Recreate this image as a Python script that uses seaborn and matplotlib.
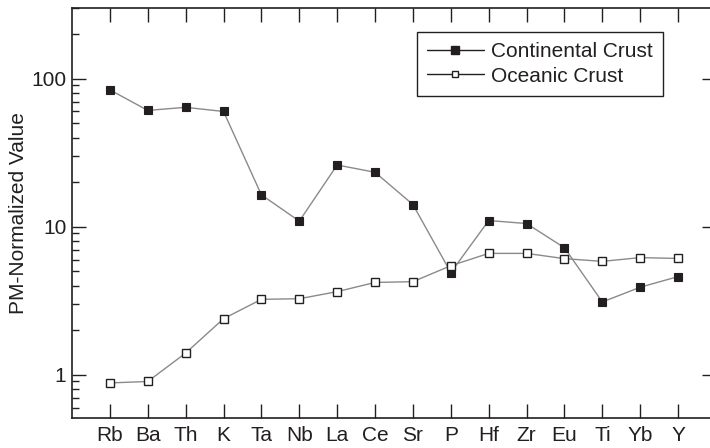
import matplotlib
matplotlib.use("Agg")
import matplotlib.pyplot as plt
import seaborn as sns
import pandas as pd
import numpy as np
from matplotlib.lines import Line2D
from matplotlib.ticker import LogLocator, FixedLocator, NullFormatter, FixedFormatter

elements = ["Rb", "Ba", "Th", "K", "Ta", "Nb", "La", "Ce", "Sr", "P", "Hf", "Zr", "Eu", "Ti", "Yb", "Y"]
continental = [84, 61, 64, 60, 16.4, 10.9, 26.1, 23.3, 14.1, 4.9, 11.0, 10.5, 7.2, 3.1, 3.9, 4.6]
oceanic = [0.88, 0.90, 1.40, 2.39, 3.23, 3.26, 3.64, 4.2, 4.25, 5.45, 6.6, 6.6, 6.08, 5.83, 6.18, 6.1]
series_names = ["Continental Crust", "Oceanic Crust"]
y_ticks = [1, 10, 100]

sns.set_style("ticks")
plt.rcParams['font.family'] = ['Liberation Sans', 'DejaVu Sans']

pos = np.arange(len(elements))
df = pd.DataFrame({"pos": np.concatenate([pos, pos]),
                   "value": continental + oceanic,
                   "series": [series_names[0]] * len(elements) + [series_names[1]] * len(elements)})

fig = plt.figure(figsize=(7.10, 4.48), dpi=100)
ax = fig.add_axes([72/710, 30/448, (716-72)/710, (418-8)/448])

line_color = "#8a8a8a"
sns.lineplot(data=df[df.series == series_names[0]], x="pos", y="value", ax=ax,
             color=line_color, lw=1.0, marker="s", markersize=6.2,
             markerfacecolor="#231f20", markeredgecolor="#231f20", markeredgewidth=0.8,
             legend=False)
sns.lineplot(data=df[df.series == series_names[1]], x="pos", y="value", ax=ax,
             color=line_color, lw=1.0, marker="s", markersize=5.6,
             markerfacecolor="white", markeredgecolor="#231f20", markeredgewidth=1.0,
             legend=False)

ax.set_yscale("log")
ax.set_ylim(0.51, 300)
ax.set_xlim(-1, 16)
ax.xaxis.set_major_locator(FixedLocator(pos))
ax.set_xticklabels(elements)
ax.yaxis.set_major_locator(FixedLocator(y_ticks))
ax.yaxis.set_major_formatter(FixedFormatter([str(t) for t in y_ticks]))
ax.yaxis.set_minor_locator(LogLocator(base=10, subs=np.arange(2, 10)))
ax.yaxis.set_minor_formatter(NullFormatter())

ax.tick_params(axis="both", which="major", direction="in", length=10, width=1,
               labelsize=15, colors="#231f20", top=True, right=True)
ax.tick_params(axis="y", which="minor", direction="in", length=5, width=1,
               left=True, right=False, colors="#231f20")
ax.tick_params(axis="x", which="minor", bottom=False, top=False)
ax.tick_params(axis="x", pad=6)
ax.tick_params(axis="y", pad=4)

for sp in ax.spines.values():
    sp.set_color("#231f20")
    sp.set_linewidth(1.2)
    sp.set_visible(True)

ax.set_xlabel("")
ax.set_ylabel("PM-Normalized Value", fontsize=15, color="#231f20", labelpad=2.5)

handles = [Line2D([], [], color="#231f20", lw=1, marker="s", markersize=6,
                  markerfacecolor="#231f20", markeredgecolor="#231f20"),
           Line2D([], [], color="#231f20", lw=1, marker="s", markersize=5,
                  markerfacecolor="white", markeredgecolor="#231f20")]
leg = ax.legend(handles, series_names, loc="upper right",
                bbox_to_anchor=(663/710, 1 - 32/448), bbox_transform=fig.transFigure,
                fontsize=15, frameon=True, fancybox=False, framealpha=1,
                edgecolor="#231f20", handlelength=2.7, handletextpad=0.35,
                borderpad=0.5, labelspacing=0.25, borderaxespad=0)
leg.get_frame().set_linewidth(1.0)
for t in leg.get_texts():
    t.set_color("#231f20")

fig.savefig("out.png", dpi=100)
